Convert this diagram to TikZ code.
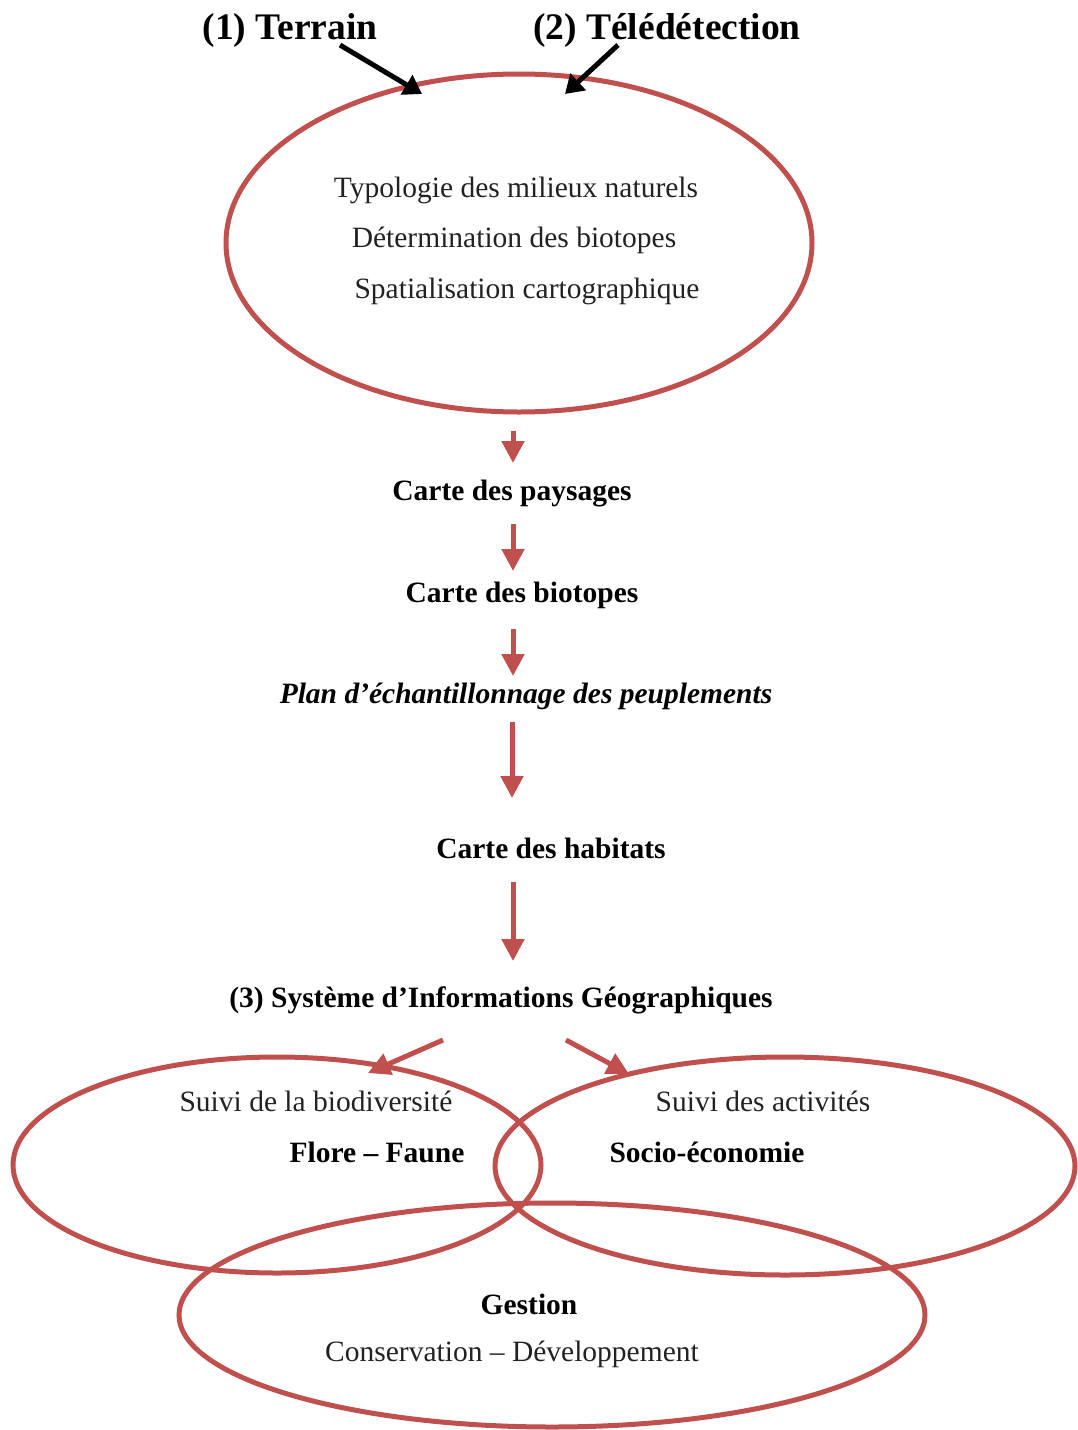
\documentclass[tikz,border=0pt]{standalone}
\usepackage{fontspec}
\setmainfont{Liberation Serif}
\usetikzlibrary{arrows.meta}
\definecolor{flowred}{HTML}{C0504D}
\definecolor{ink}{HTML}{222222}
\begin{document}
\begin{tikzpicture}[x=1pt,y=-1pt,
  ring/.style={draw=flowred,line width=5pt},
  flow/.style={draw=flowred,line width=5pt,-{Triangle[length=22pt,width=22pt]}},
  feed/.style={draw=black,line width=5pt,-{Triangle[length=18pt,width=22pt]}},
  lbl/.style={font=\fontsize{29.5}{31}\selectfont,text=ink,inner sep=0pt},
  blbl/.style={font=\fontsize{29.5}{31}\selectfont\bfseries,text=black,inner sep=0pt},
  head/.style={font=\fontsize{37.5}{39}\selectfont\bfseries,text=black,inner sep=0pt}]
\useasboundingbox (0,0) rectangle (1078,1430);

% sources
\node[head] (terrain) at (290,30) {(1) Terrain};
\node[head] (teledet) at (667,30) {(2) Télédétection};

% top ellipse
\draw[ring] (519,243) ellipse [x radius=293, y radius=169];
\node[lbl] (typo) at (516,190) {Typologie des milieux naturels};
\node[lbl] (deter) at (514,240) {Détermination des biotopes};
\node[lbl] (spat) at (527,291) {Spatialisation cartographique};

\coordinate (t1) at (340,45);
\coordinate (t2) at (422,94);
\coordinate (d1) at (618,45);
\coordinate (d2) at (565,94);
\draw[feed] (t1) -- (t2);
\draw[feed] (d1) -- (d2);

% chain of maps
\node[blbl] (paysages) at (512,494) {Carte des paysages};
\node[blbl] (biotopes) at (522,595) {Carte des biotopes};
\node[blbl] (plan) at (526,696) {\itshape Plan d’échantillonnage des peuplements};
\node[blbl] (habitats) at (551,848) {Carte des habitats};
\node[blbl] (sig) at (501,1000) {(3) Système d’Informations Géographiques};

\coordinate (a1) at (513,431); \coordinate (a2) at (513,463);
\coordinate (b1) at (513,524); \coordinate (b2) at (513,571);
\coordinate (c1) at (513,629); \coordinate (c2) at (513,676);
\coordinate (e1) at (512,722); \coordinate (e2) at (512,798);
\coordinate (f1) at (513,882); \coordinate (f2) at (513,961);
\draw[flow] (a1) -- (a2);
\draw[flow] (b1) -- (b2);
\draw[flow] (c1) -- (c2);
\draw[flow] (e1) -- (e2);
\draw[flow] (f1) -- (f2);

% three overlapping fields
\draw[ring] (277,1165) ellipse [x radius=264, y radius=108];
\draw[ring] (785,1166) ellipse [x radius=290, y radius=109];
\draw[ring] (552,1315) ellipse [x radius=373, y radius=112];

\coordinate (g1) at (443,1040); \coordinate (g2) at (368,1073);
\coordinate (h1) at (566,1040); \coordinate (h2) at (629,1074);
\draw[flow] (g1) -- (g2);
\draw[flow] (h1) -- (h2);

\node[lbl] (suivibio) at (316,1101) {Suivi de la biodiversité};
\node[blbl] (flore) at (377,1152) {Flore – Faune};
\node[lbl] (suiviact) at (763,1101) {Suivi des activités};
\node[blbl] (socio) at (707,1152) {Socio-économie};
\node[blbl] (gestion) at (529,1304) {Gestion};
\node[lbl] (conserv) at (512,1354) {Conservation – Développement};
\end{tikzpicture}
\end{document}
